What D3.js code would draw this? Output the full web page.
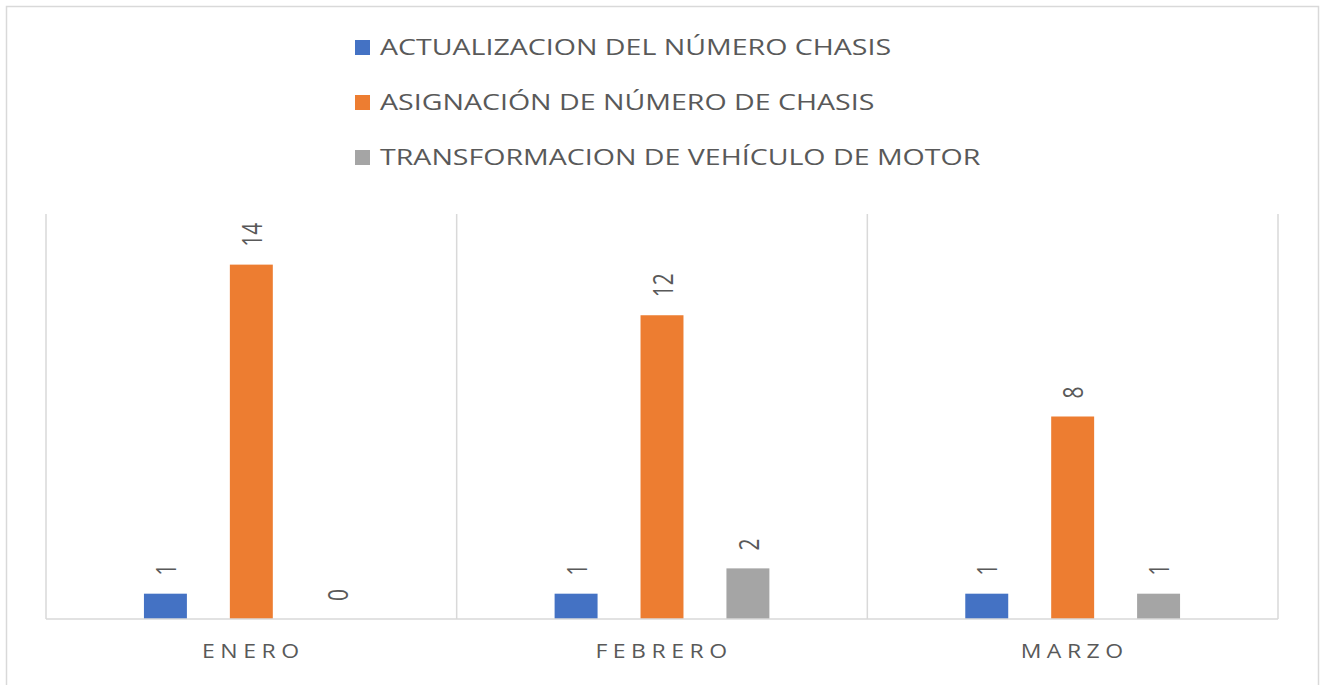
<!DOCTYPE html>
<html>
<head>
<meta charset="utf-8">
<script src="https://cdn.jsdelivr.net/npm/d3@7"></script>
<style>
  body { margin: 0; background: #fff; }
  svg { display: block; font-family: 'Open Sans', sans-serif; }
</style>
</head>
<body>
<div id="chart"></div>
<script>
const months = ['ENERO', 'FEBRERO', 'MARZO']
const seriesNames = [
  'ACTUALIZACION DEL NÚMERO CHASIS',
  'ASIGNACIÓN DE NÚMERO DE CHASIS',
  'TRANSFORMACION DE VEHÍCULO DE MOTOR',
]
const actualizacion = [1, 1, 1]
const asignacion = [14, 12, 8]
const transformacion = [0, 2, 1]
const colors = ['#4472c4', '#ed7d31', '#a5a5a5']

const width = 1320
const height = 685
const margin = { left: 46, right: 42, top: 214, bottom: 66 }
const stretch = 1.33 // the source picture is stretched sideways

const svg = d3.select('#chart').append('svg')
  .attr('width', width)
  .attr('height', height)

// outer chart border
svg.append('rect')
  .attr('x', 6.5).attr('y', 6.5)
  .attr('width', 1312).attr('height', 700)
  .attr('fill', 'none')
  .attr('stroke', '#d9d9d9')
  .attr('stroke-width', 1.5)

const series = [actualizacion, asignacion, transformacion]

const x = d3.scaleBand()
  .domain(months)
  .range([margin.left, width - margin.right])

const xs = d3.scaleBand()
  .domain(d3.range(series.length))
  .range([0, x.bandwidth()])
  .paddingInner(0.5)
  .paddingOuter(1.14)

const y = d3.scaleLinear()
  .domain([0, 16])
  .range([height - margin.bottom, margin.top])

// vertical category gridlines
const ticks = months.map(m => x(m)).concat([x.range()[1]])
svg.append('g')
  .selectAll('line')
  .data(ticks)
  .join('line')
  .attr('x1', d => d).attr('x2', d => d)
  .attr('y1', y(16)).attr('y2', y(0))
  .attr('stroke', '#d9d9d9')
  .attr('stroke-width', 1.5)

// bars
const groups = svg.append('g')
  .selectAll('g')
  .data(months)
  .join('g')
  .attr('transform', d => `translate(${x(d)},0)`)

const cells = groups.selectAll('g')
  .data((m, mi) => series.map((s, si) => ({ si, v: s[mi] })))
  .join('g')

cells.append('rect')
  .attr('x', d => xs(d.si))
  .attr('width', xs.bandwidth())
  .attr('y', d => y(d.v))
  .attr('height', d => y(0) - y(d.v))
  .attr('fill', d => colors[d.si])

cells.append('text')
  .attr('transform', d => `translate(${xs(d.si) + xs.bandwidth() / 2},${y(d.v) - 18}) scale(${stretch},1) rotate(-90)`)
  .attr('dominant-baseline', 'central')
  .attr('font-size', 21)
  .attr('fill', '#595959')
  .text(d => d.v)

// baseline
svg.append('line')
  .attr('x1', x.range()[0]).attr('x2', x.range()[1])
  .attr('y1', y(0)).attr('y2', y(0))
  .attr('stroke', '#d9d9d9')
  .attr('stroke-width', 1.5)

// category labels
svg.append('g')
  .selectAll('text')
  .data(months)
  .join('text')
  .attr('transform', d => `translate(${x(d) + x.bandwidth() / 2 + 2},658) scale(1.15,1)`)
  .attr('text-anchor', 'middle')
  .attr('font-size', 20)
  .attr('letter-spacing', 4.8)
  .attr('fill', '#595959')
  .text(d => d)

// legend
const legend = svg.append('g')
  .selectAll('g')
  .data(seriesNames)
  .join('g')
  .attr('transform', (d, i) => `translate(355,${40 + i * 55})`)

legend.append('rect')
  .attr('width', 15).attr('height', 15)
  .attr('fill', (d, i) => colors[i])

legend.append('text')
  .attr('transform', 'translate(25,15) scale(1.36,1)')
  .attr('font-size', 21)
  .attr('fill', '#595959')
  .text(d => d)
</script>
</body>
</html>
